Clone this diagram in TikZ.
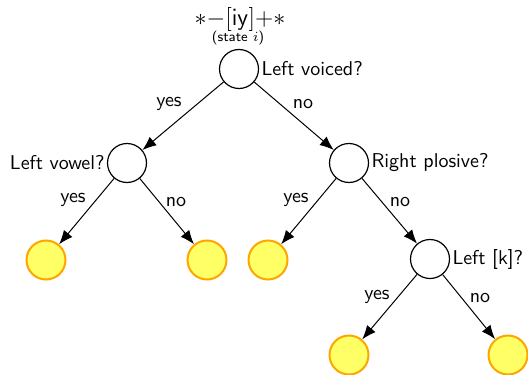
\documentclass[tikz,border=0pt]{standalone}
\usetikzlibrary{arrows.meta}
\definecolor{leaffill}{HTML}{FFFF66}
\definecolor{leafedge}{HTML}{FFA500}
\begin{document}
\begin{tikzpicture}[x=0.5pt,y=-0.5pt,font=\sffamily,
  question/.style={circle,draw=black,line width=0.6pt,fill=white,minimum size=19.5pt,inner sep=0pt},
  leaf/.style={circle,draw=leafedge,line width=1pt,fill=leaffill,minimum size=19.5pt,inner sep=0pt},
  branch/.style={-{Latex[length=7pt,width=5.5pt]},line width=0.5pt},
  qtext/.style={inner sep=1pt}]
\useasboundingbox (0,0) rectangle (528,374);

% question nodes
\node[question] (root) at (239,69) {};
\node[question] (lv) at (127,163) {};
\node[question] (rp) at (349,163) {};
\node[question] (lk) at (430,259) {};

% leaves
\node[leaf] (l1) at (46,260) {};
\node[leaf] (l2) at (207,260) {};
\node[leaf] (l3) at (268,260) {};
\node[leaf] (l4) at (349,355) {};
\node[leaf] (l5) at (508,355) {};

% state heading
\node (title) at (240,20) {\large$*{-}[\mathsf{iy}]{+}*$};
\node (state) at (238,38) {\scriptsize\textsf{(state $i$)}};

% questions
\node[qtext,anchor=west] (qroot) at (root.east) {Left voiced?};
\node[qtext,anchor=east] (qlv) at (lv.west) {Left vowel?};
\node[qtext,anchor=west] (qrp) at (rp.east) {Right plosive?};
\node[qtext,anchor=west] (qlk) at (lk.east) {Left [k]?};

% branches
\draw[branch] (root) -- (lv);
\draw[branch] (root) -- (rp);
\draw[branch] (lv) -- (l1);
\draw[branch] (lv) -- (l2);
\draw[branch] (rp) -- (l3);
\draw[branch] (rp) -- (lk);
\draw[branch] (lk) -- (l4);
\draw[branch] (lk) -- (l5);

% branch labels
\node (y1) at (169,104) {yes};
\node (n1) at (303,104) {no};
\node (y2) at (73,200) {yes};
\node (n2) at (176,202) {no};
\node (y3) at (296,200) {yes};
\node (n3) at (400,202) {no};
\node (y4) at (377,297) {yes};
\node (n4) at (480,298) {no};
\end{tikzpicture}
\end{document}
